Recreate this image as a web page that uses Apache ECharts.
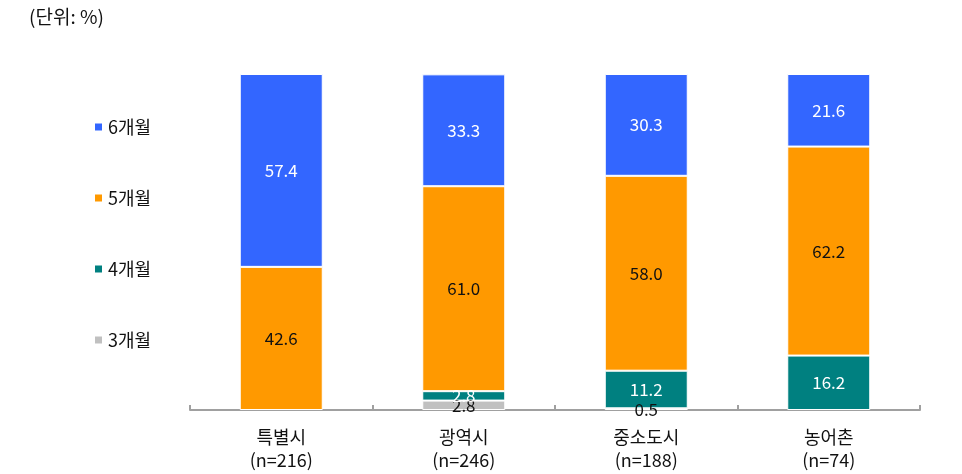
<!DOCTYPE html>
<html><head><meta charset="utf-8">
<script src="https://cdn.jsdelivr.net/npm/echarts@6/dist/echarts.min.js"></script>
<style>html,body{margin:0;padding:0;background:#fff}#c{width:962px;height:474px}</style>
</head><body><div id="c"></div>
<script>
const categories = ['특별시\n(n=216)', '광역시\n(n=246)', '중소도시\n(n=188)', '농어촌\n(n=74)'];
const m3 = [null, 2.8, 0.5, null];
const m4 = [null, 2.8, 11.2, 16.2];
const m5 = [42.6, 61.0, 58.0, 62.2];
const m6 = [57.4, 33.3, 30.3, 21.6];
const unitText = '(단위: %)';

const FONT = '"Noto Sans CJK KR", "Noto Sans", sans-serif';
function mk(name, data, color, labelColor) {
  return {
    name, type: 'bar', stack: 'a', data, barWidth: 83,
    itemStyle: { color, borderColor: '#fff', borderWidth: 1 },
    label: { show: true, position: 'inside', color: labelColor, fontSize: 17, fontFamily: FONT,
      formatter: p => (p.value == null ? '' : Number(p.value).toFixed(1)) },
    emphasis: { disabled: true }
  };
}
const chart = echarts.init(document.getElementById('c'), null, { renderer: 'canvas' });
chart.setOption({
  animation: false,
  textStyle: { fontFamily: FONT },
  title: { text: unitText, left: 24, top: 2, textStyle: { fontSize: 19, fontWeight: 'normal', color: '#111', fontFamily: FONT } },
  legend: {
    orient: 'vertical', left: 88, top: 111, itemWidth: 9, itemHeight: 9, itemGap: 49,
    icon: 'rect', data: ['6개월', '5개월', '4개월', '3개월'],
    textStyle: { fontSize: 18, lineHeight: 22, color: '#111', fontFamily: FONT }
  },
  grid: { left: 190, right: 42, top: 74, bottom: 64, containLabel: false },
  xAxis: {
    type: 'category', data: categories,
    axisLine: { lineStyle: { color: '#A0A0A0', width: 2 } },
    axisTick: { show: true, inside: true, length: 5, lineStyle: { color: '#A0A0A0', width: 2 } },
    axisLabel: { fontSize: 18, color: '#111', lineHeight: 23, margin: 16, fontFamily: FONT }
  },
  yAxis: { type: 'value', min: 0, max: 100, show: false, splitLine: { show: false } },
  series: [
    mk('3개월', m3, '#C0C0C0', '#111'),
    mk('4개월', m4, '#008080', '#fff'),
    mk('5개월', m5, '#FF9900', '#111'),
    mk('6개월', m6, '#3366FF', '#fff')
  ]
});
</script></body></html>
